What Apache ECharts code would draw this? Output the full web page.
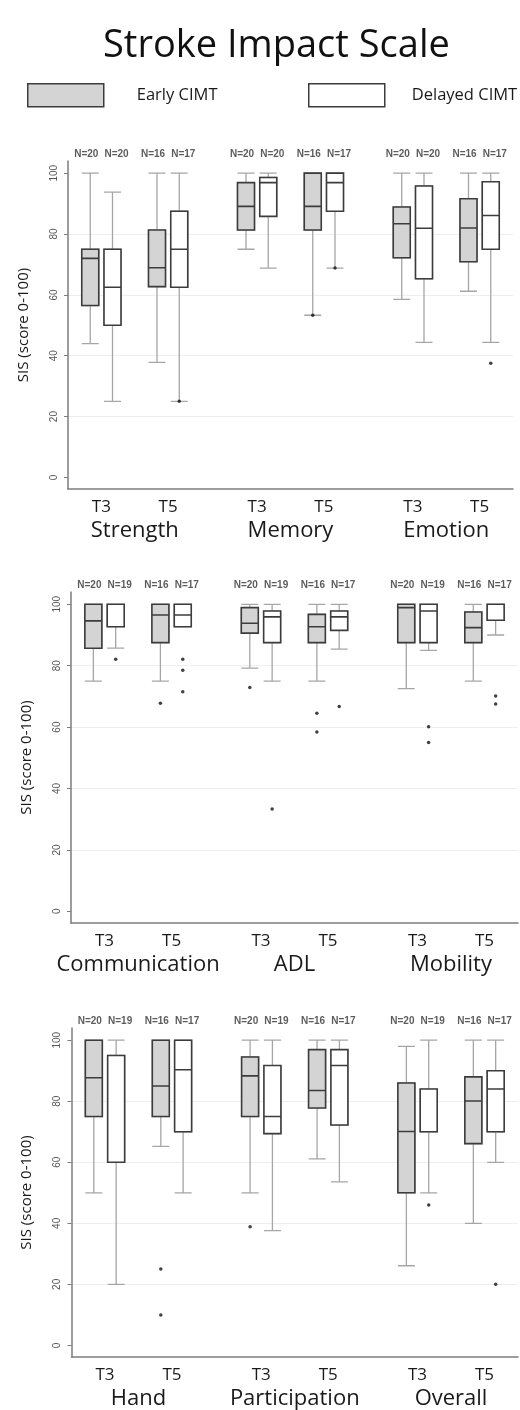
<!DOCTYPE html>
<html>
<head>
<meta charset="utf-8">
<title>Stroke Impact Scale</title>
<script src="https://cdn.jsdelivr.net/npm/echarts@6/dist/echarts.min.js"></script>
<style>
  html, body { margin: 0; padding: 0; background: #fff; }
  #main { width: 520px; height: 1410px; }
</style>
</head>
<body>
<div id="main"></div>
<script>
// box stats per box: [min, Q1, median, Q3, max], order = domain1 T3, domain1 T5, domain2 T3, ...
const timeLabels = ['T3', 'T5'];
const yTicks = [0, 20, 40, 60, 80, 100];

// panel 1
const p1Domains = ['Strength', 'Memory', 'Emotion'];
const p1Early = [
  [44, 56.5, 72, 75, 100],
  [37.8, 62.7, 68.9, 81.3, 100],
  [75, 81.3, 89.1, 96.9, 100],
  [53.3, 81.3, 89.1, 100, 100],
  [58.5, 72.2, 83.4, 88.9, 100],
  [61.2, 70.9, 82, 91.6, 100]
];
const p1Delayed = [
  [25, 50, 62.5, 75, 93.8],
  [25, 62.5, 75, 87.5, 100],
  [68.8, 85.8, 96.9, 98.6, 100],
  [68.8, 87.5, 96.9, 100, 100],
  [44.4, 65.3, 81.9, 95.8, 100],
  [44.4, 75, 86.1, 97.2, 100]
];
const p1EarlyOut = [[3, 53.3]];
const p1DelayedOut = [[1, 25], [3, 68.8], [5, 37.5]];
const p1NEarly = [20, 16, 20, 16, 20, 16];
const p1NDelayed = [20, 17, 20, 17, 20, 17];

// panel 2
const p2Domains = ['Communication', 'ADL', 'Mobility'];
const p2Early = [
  [75, 85.7, 94.6, 100, 100],
  [75, 87.5, 96.5, 100, 100],
  [79.2, 90.6, 93.8, 98.9, 100],
  [75, 87.5, 92.7, 96.7, 100],
  [72.5, 87.5, 98.9, 100, 100],
  [75, 87.5, 92.4, 97.5, 100]
];
const p2Delayed = [
  [85.7, 92.7, 100, 100, 100],
  [92.7, 92.7, 96.5, 100, 100],
  [75, 87.5, 95.9, 97.8, 100],
  [85.4, 91.5, 95.9, 97.8, 100],
  [85, 87.5, 97.8, 100, 100],
  [90, 94.8, 100, 100, 100]
];
const p2EarlyOut = [[1, 67.8], [2, 72.9], [3, 64.5], [3, 58.4]];
const p2DelayedOut = [[0, 82.1], [1, 82.1], [1, 78.5], [1, 71.5], [2, 33.3], [3, 66.7], [4, 60.1], [4, 55], [5, 70.1], [5, 67.5]];
const p2NEarly = [20, 16, 20, 16, 20, 16];
const p2NDelayed = [19, 17, 19, 17, 19, 17];

// panel 3
const p3Domains = ['Hand', 'Participation', 'Overall'];
const p3Early = [
  [50, 75, 87.7, 100, 100],
  [65.2, 75, 85, 100, 100],
  [50, 75, 88.3, 94.5, 100],
  [61.1, 77.8, 83.5, 96.9, 100],
  [26.1, 50, 70.1, 86, 98],
  [40, 66.1, 80.1, 88, 100]
];
const p3Delayed = [
  [20, 60, 95, 95, 100],
  [50, 70, 90.3, 100, 100],
  [37.6, 69.4, 75, 91.7, 100],
  [53.6, 72.2, 91.7, 96.9, 100],
  [50, 70, 70, 84, 100],
  [60, 70, 84, 90, 100]
];
const p3EarlyOut = [[1, 25], [1, 10], [2, 38.9]];
const p3DelayedOut = [[4, 46], [5, 20]];
const p3NEarly = [20, 16, 20, 16, 20, 16];
const p3NDelayed = [19, 17, 19, 17, 19, 17];

const panels = [
  { domains: p1Domains, early: p1Early, delayed: p1Delayed, earlyOut: p1EarlyOut, delayedOut: p1DelayedOut, nEarly: p1NEarly, nDelayed: p1NDelayed },
  { domains: p2Domains, early: p2Early, delayed: p2Delayed, earlyOut: p2EarlyOut, delayedOut: p2DelayedOut, nEarly: p2NEarly, nDelayed: p2NDelayed },
  { domains: p3Domains, early: p3Early, delayed: p3Delayed, earlyOut: p3EarlyOut, delayedOut: p3DelayedOut, nEarly: p3NEarly, nDelayed: p3NDelayed }
];

// layout of the three plot regions
const gridBoxes = [
  { left: 68, top: 161, width: 445, height: 328 },
  { left: 71, top: 592, width: 447, height: 331 },
  { left: 71.5, top: 1028, width: 446.5, height: 329 }
];

const FONT = '"Open Sans", Lato, sans-serif';
const EARLY_FILL = '#d4d4d4';
const BOX_BORDER = '#3c3c3c';
const WHISKER = '#a6a6a6';
const AXIS_GRAY = '#7d7d7d';

// x slot of a box: 7 slots per domain, 3 between T3 and T5, 1 between early/delayed
function slot(i, g) {
  return Math.floor(i / 2) * 7 + (i % 2) * 3 + g;
}

var chart = echarts.init(document.getElementById('main'), null, { renderer: 'canvas' });

var grid = [], xAxis = [], yAxis = [], series = [];

panels.forEach(function (p, k) {
  grid.push(gridBoxes[k]);

  var tPos = [], dPos = [];
  p.domains.forEach(function (d, di) {
    tPos.push(di * 7 + 0.5, di * 7 + 3.5);
    dPos.push(di * 7 + 2);
  });

  // axis with T3 / T5 labels and the visible line
  xAxis.push({
    gridIndex: k, type: 'value', min: -1, max: 19, position: 'bottom',
    axisLine: { show: true, onZero: false, lineStyle: { color: AXIS_GRAY, width: 1.5 } },
    axisTick: { show: false },
    splitLine: { show: false },
    axisLabel: {
      customValues: tPos, margin: 10, fontSize: 17, color: '#1a1a1a', fontFamily: FONT,
      formatter: function (v) {
        var r = Math.round((v % 7) * 2) / 2;
        return r === 0.5 ? timeLabels[0] : timeLabels[1];
      }
    }
  });
  // axis carrying the domain names
  xAxis.push({
    gridIndex: k, type: 'value', min: -1, max: 19, position: 'bottom',
    axisLine: { show: false, onZero: false },
    axisTick: { show: false },
    splitLine: { show: false },
    axisLabel: {
      customValues: dPos, margin: 31, fontSize: 22, color: '#1a1a1a', fontFamily: FONT,
      formatter: function (v) {
        return p.domains[Math.round((v - 2) / 7)];
      }
    }
  });
  // hidden axis for the delayed boxes
  xAxis.push({ gridIndex: k, type: 'value', min: -1, max: 19, show: false });

  yAxis.push({
    gridIndex: k, type: 'value', min: -3.8, max: 104,
    name: 'SIS (score 0-100)', nameLocation: 'middle', nameRotate: 90, nameGap: 37,
    nameTextStyle: { fontSize: 15, color: '#1a1a1a', fontFamily: FONT },
    axisLine: { show: true, onZero: false, lineStyle: { color: AXIS_GRAY, width: 1.5 } },
    axisTick: { show: true, length: 4, customValues: yTicks, lineStyle: { color: AXIS_GRAY } },
    axisLabel: { customValues: yTicks, rotate: 90, margin: 9, fontSize: 10, color: '#555', fontFamily: '"Liberation Sans Narrow", "Liberation Sans", sans-serif' },
    splitLine: { show: true, showMinLine: false, showMaxLine: false, lineStyle: { color: '#eeeeee', width: 1 } }
  });

  var whiskers = [];
  p.early.forEach(function (b, i) { whiskers.push([slot(i, 0)].concat(b)); });
  p.delayed.forEach(function (b, i) { whiskers.push([slot(i, 1)].concat(b)); });

  // whiskers + caps (light gray) underneath
  series.push({
    type: 'boxplot', name: 'whiskers', xAxisIndex: k * 3, yAxisIndex: k,
    boxWidth: [17, 17], silent: true,
    itemStyle: { color: '#fff', borderColor: WHISKER, borderWidth: 1.3 },
    data: whiskers
  });
  // boxes only: Q1..Q3 with median
  series.push({
    type: 'boxplot', name: 'Early CIMT', xAxisIndex: k * 3 + 1, yAxisIndex: k,
    boxWidth: [17, 17], silent: true,
    itemStyle: { color: EARLY_FILL, borderColor: BOX_BORDER, borderWidth: 1.6 },
    data: p.early.map(function (b, i) { return [slot(i, 0), b[1], b[1], b[2], b[3], b[3]]; })
  });
  series.push({
    type: 'boxplot', name: 'Delayed CIMT', xAxisIndex: k * 3 + 2, yAxisIndex: k,
    boxWidth: [17, 17], silent: true,
    itemStyle: { color: '#fff', borderColor: BOX_BORDER, borderWidth: 1.6 },
    data: p.delayed.map(function (b, i) { return [slot(i, 1), b[1], b[1], b[2], b[3], b[3]]; })
  });

  // outside values
  var outs = p.earlyOut.map(function (o) { return [slot(o[0], 0), o[1]]; })
    .concat(p.delayedOut.map(function (o) { return [slot(o[0], 1), o[1]]; }));
  series.push({
    type: 'scatter', name: 'outliers', xAxisIndex: k * 3 + 2, yAxisIndex: k,
    symbolSize: 3.5, silent: true, itemStyle: { color: '#111' }, data: outs
  });

  // N= labels over each box
  [[p.nEarly, 0, -4], [p.nDelayed, 1, 4]].forEach(function (cfg) {
    var ns = cfg[0];
    series.push({
      type: 'scatter', name: 'n', xAxisIndex: k * 3 + 2, yAxisIndex: k,
      symbolSize: 1, silent: true, clip: false,
      itemStyle: { color: 'transparent' },
      label: {
        show: true, position: 'top', distance: 1, offset: [cfg[2], 0],
        fontSize: 10, fontWeight: 'bold', color: '#333', fontFamily: '"Liberation Sans", sans-serif',
        formatter: function (params) { return 'N=' + ns[params.dataIndex]; }
      },
      data: ns.map(function (n, i) { return [slot(i, cfg[1]), 104]; })
    });
  });
});

var option = {
  backgroundColor: '#fff',
  animation: false,
  title: {
    text: 'Stroke Impact Scale', left: 98, top: 22,
    textStyle: { fontSize: 38, fontWeight: 'normal', color: '#111', fontFamily: FONT }
  },
  legend: [
    {
      data: [{ name: 'Early CIMT', icon: 'rect' }], left: 22, top: 78,
      itemWidth: 76, itemHeight: 23, selectedMode: false,
      itemStyle: { color: EARLY_FILL, borderColor: BOX_BORDER, borderWidth: 1.5 },
      textStyle: { fontSize: 16.5, color: '#1a1a1a', fontFamily: FONT, padding: [0, 0, 0, 28] }
    },
    {
      data: [{ name: 'Delayed CIMT', icon: 'rect' }], left: 303, top: 78,
      itemWidth: 76, itemHeight: 23, selectedMode: false,
      itemStyle: { color: '#fff', borderColor: BOX_BORDER, borderWidth: 1.5 },
      textStyle: { fontSize: 16.5, color: '#1a1a1a', fontFamily: FONT, padding: [0, 0, 0, 22] }
    }
  ],
  grid: grid,
  xAxis: xAxis,
  yAxis: yAxis,
  series: series
};

chart.setOption(option);
</script>
</body>
</html>
